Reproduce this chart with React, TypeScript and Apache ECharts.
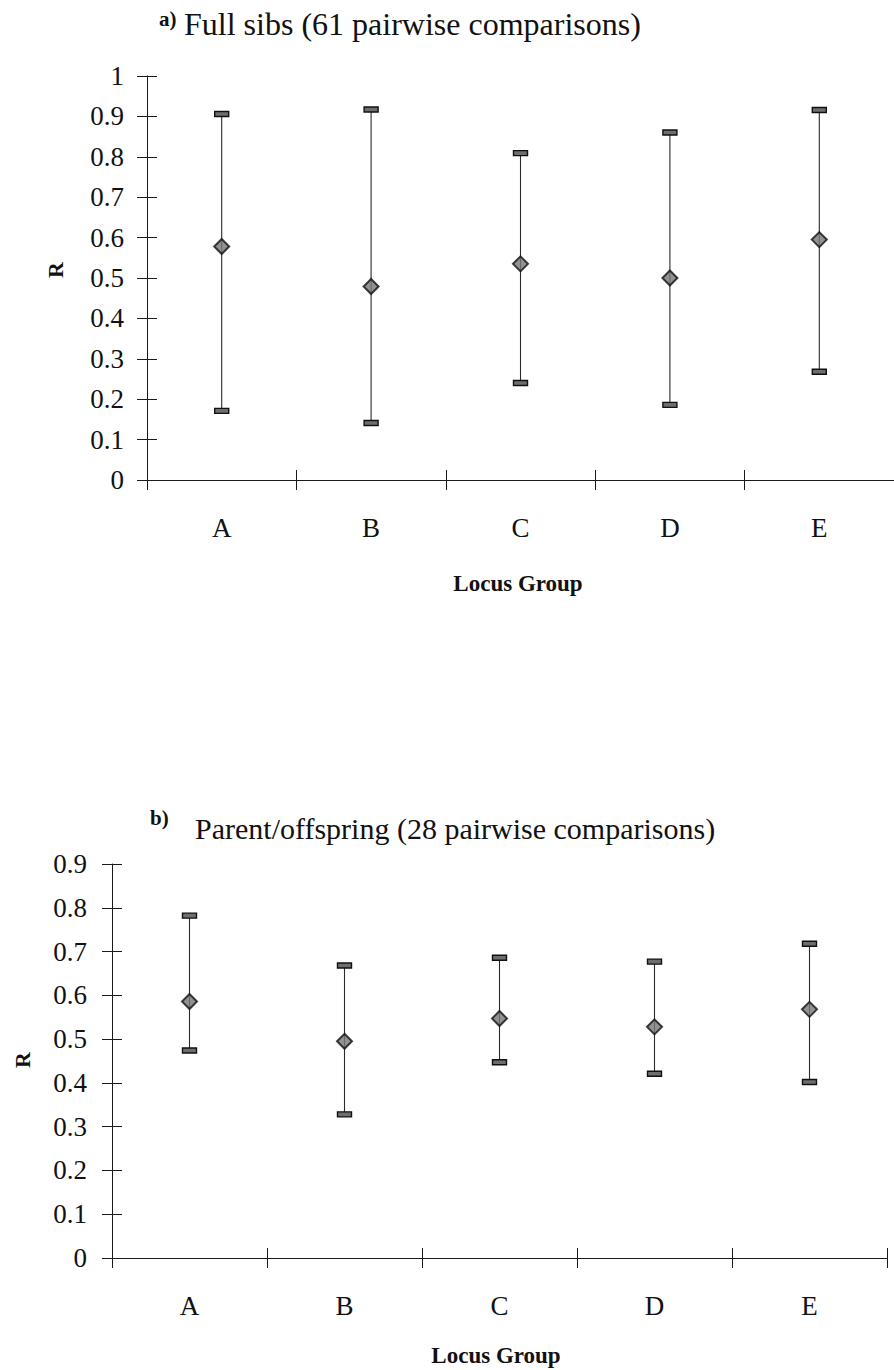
import React, { useEffect, useRef } from "react";
import * as echarts from "echarts";

const categories = ["A", "B", "C", "D", "E"];

// a) Full sibs
const fullSibMean = [0.578, 0.479, 0.535, 0.5, 0.595];
const fullSibLow = [0.171, 0.141, 0.24, 0.186, 0.268];
const fullSibHigh = [0.906, 0.917, 0.809, 0.86, 0.916];

// b) Parent/offspring
const parentMean = [0.586, 0.495, 0.547, 0.528, 0.568];
const parentLow = [0.474, 0.328, 0.447, 0.421, 0.402];
const parentHigh = [0.782, 0.668, 0.686, 0.677, 0.718];

const FONT = "Liberation Serif";
const INK = "#1a1a1a";

function errorRenderItem(params: any, api: any) {
  const x = api.value(0);
  const lo = api.coord([x, api.value(1)]);
  const hi = api.coord([x, api.value(2)]);
  const cw = 14;
  const ch = 5;
  return {
    type: "group",
    children: [
      {
        type: "line",
        shape: { x1: lo[0], y1: lo[1], x2: hi[0], y2: hi[1] },
        style: { stroke: "#2a2a2a", lineWidth: 1.1 },
      },
      {
        type: "rect",
        shape: { x: hi[0] - cw / 2, y: hi[1] - ch / 2, width: cw, height: ch },
        style: { fill: "#6e6e6e", stroke: "#111", lineWidth: 1.4 },
      },
      {
        type: "rect",
        shape: { x: lo[0] - cw / 2, y: lo[1] - ch / 2, width: cw, height: ch },
        style: { fill: "#6e6e6e", stroke: "#111", lineWidth: 1.4 },
      },
    ],
  };
}

function xAxes(gridIndex: number) {
  return [
    {
      gridIndex,
      type: "category",
      data: categories,
      boundaryGap: true,
      position: "bottom",
      axisLine: { show: true, lineStyle: { color: INK, width: 1 } },
      axisTick: { show: true, inside: false, length: 10, lineStyle: { color: INK } },
      axisLabel: { fontFamily: FONT, fontSize: 27, color: "#111", margin: 34 },
      splitLine: { show: false },
    },
    {
      gridIndex,
      type: "category",
      data: categories,
      boundaryGap: true,
      position: "bottom",
      axisLine: { show: false },
      axisTick: { show: true, inside: true, length: 10, lineStyle: { color: INK } },
      axisLabel: { show: false },
      splitLine: { show: false },
    },
  ];
}

function yAxes(gridIndex: number, max: number, margin: number) {
  const fmt = (v: number) => String(Math.round(v * 10) / 10);
  return [
    {
      gridIndex,
      type: "value",
      min: 0,
      max,
      interval: 0.1,
      axisLine: { show: true, lineStyle: { color: INK, width: 1 } },
      axisTick: { show: true, inside: false, length: 10, lineStyle: { color: INK } },
      axisLabel: { fontFamily: FONT, fontSize: 27, color: "#111", margin, formatter: fmt },
      splitLine: { show: false },
    },
    {
      gridIndex,
      type: "value",
      min: 0,
      max,
      interval: 0.1,
      position: "left",
      axisLine: { show: false },
      axisTick: { show: true, inside: true, length: 10, lineStyle: { color: INK } },
      axisLabel: { show: false },
      splitLine: { show: false },
    },
  ];
}

function text(x: number, y: number, t: string, size: number, opts: any = {}) {
  return {
    type: "text",
    x,
    y,
    rotation: opts.rotation || 0,
    style: {
      text: t,
      fontFamily: FONT,
      fontSize: size,
      fontWeight: opts.bold ? "bold" : "normal",
      fill: "#111",
      align: opts.align || "left",
      verticalAlign: "middle",
    },
  };
}

export default function App() {
  const ref = useRef<HTMLDivElement>(null);
  useEffect(() => {
    if (!ref.current) return;
    const chart = echarts.init(ref.current, undefined, { renderer: "svg" });
    const option: any = {
      animation: false,
      backgroundColor: "#ffffff",
      textStyle: { fontFamily: FONT },
      grid: [
        { left: 147, top: 76, width: 756, height: 404 },
        { left: 112, top: 864, width: 775, height: 394 },
      ],
      xAxis: [...xAxes(0), ...xAxes(1)],
      yAxis: [...yAxes(0, 1, 23), ...yAxes(1, 0.9, 25)],
      series: [
        {
          type: "custom",
          xAxisIndex: 0,
          yAxisIndex: 0,
          renderItem: errorRenderItem,
          encode: { x: 0, y: [1, 2] },
          data: categories.map((c, i) => [i, fullSibLow[i], fullSibHigh[i]]),
          z: 2,
        },
        {
          type: "scatter",
          xAxisIndex: 0,
          yAxisIndex: 0,
          symbol: "diamond",
          symbolSize: 15,
          itemStyle: { color: "#777777", borderColor: "#111", borderWidth: 2 },
          data: fullSibMean,
          z: 3,
        },
        {
          type: "custom",
          xAxisIndex: 2,
          yAxisIndex: 2,
          renderItem: errorRenderItem,
          encode: { x: 0, y: [1, 2] },
          data: categories.map((c, i) => [i, parentLow[i], parentHigh[i]]),
          z: 2,
        },
        {
          type: "scatter",
          xAxisIndex: 2,
          yAxisIndex: 2,
          symbol: "diamond",
          symbolSize: 15,
          itemStyle: { color: "#777777", borderColor: "#111", borderWidth: 2 },
          data: parentMean,
          z: 3,
        },
      ],
      graphic: [
        text(159, 19, "a)", 21, { bold: true }),
        text(184, 24, "Full sibs (61 pairwise comparisons)", 32),
        text(55, 270, "R", 22, { bold: true, rotation: Math.PI / 2, align: "center" }),
        text(518, 583, "Locus Group", 23, { bold: true, align: "center" }),
        text(150, 818, "b)", 21, { bold: true }),
        text(195, 828, "Parent/offspring (28 pairwise comparisons)", 30),
        text(22, 1060, "R", 22, { bold: true, rotation: Math.PI / 2, align: "center" }),
        text(496, 1355, "Locus Group", 23, { bold: true, align: "center" }),
      ],
    };
    chart.setOption(option);
    return () => chart.dispose();
  }, []);
  return (
    <div
      ref={ref}
      style={{ position: "absolute", left: 0, top: 0, width: 894, height: 1370, background: "#fff" }}
    />
  );
}
